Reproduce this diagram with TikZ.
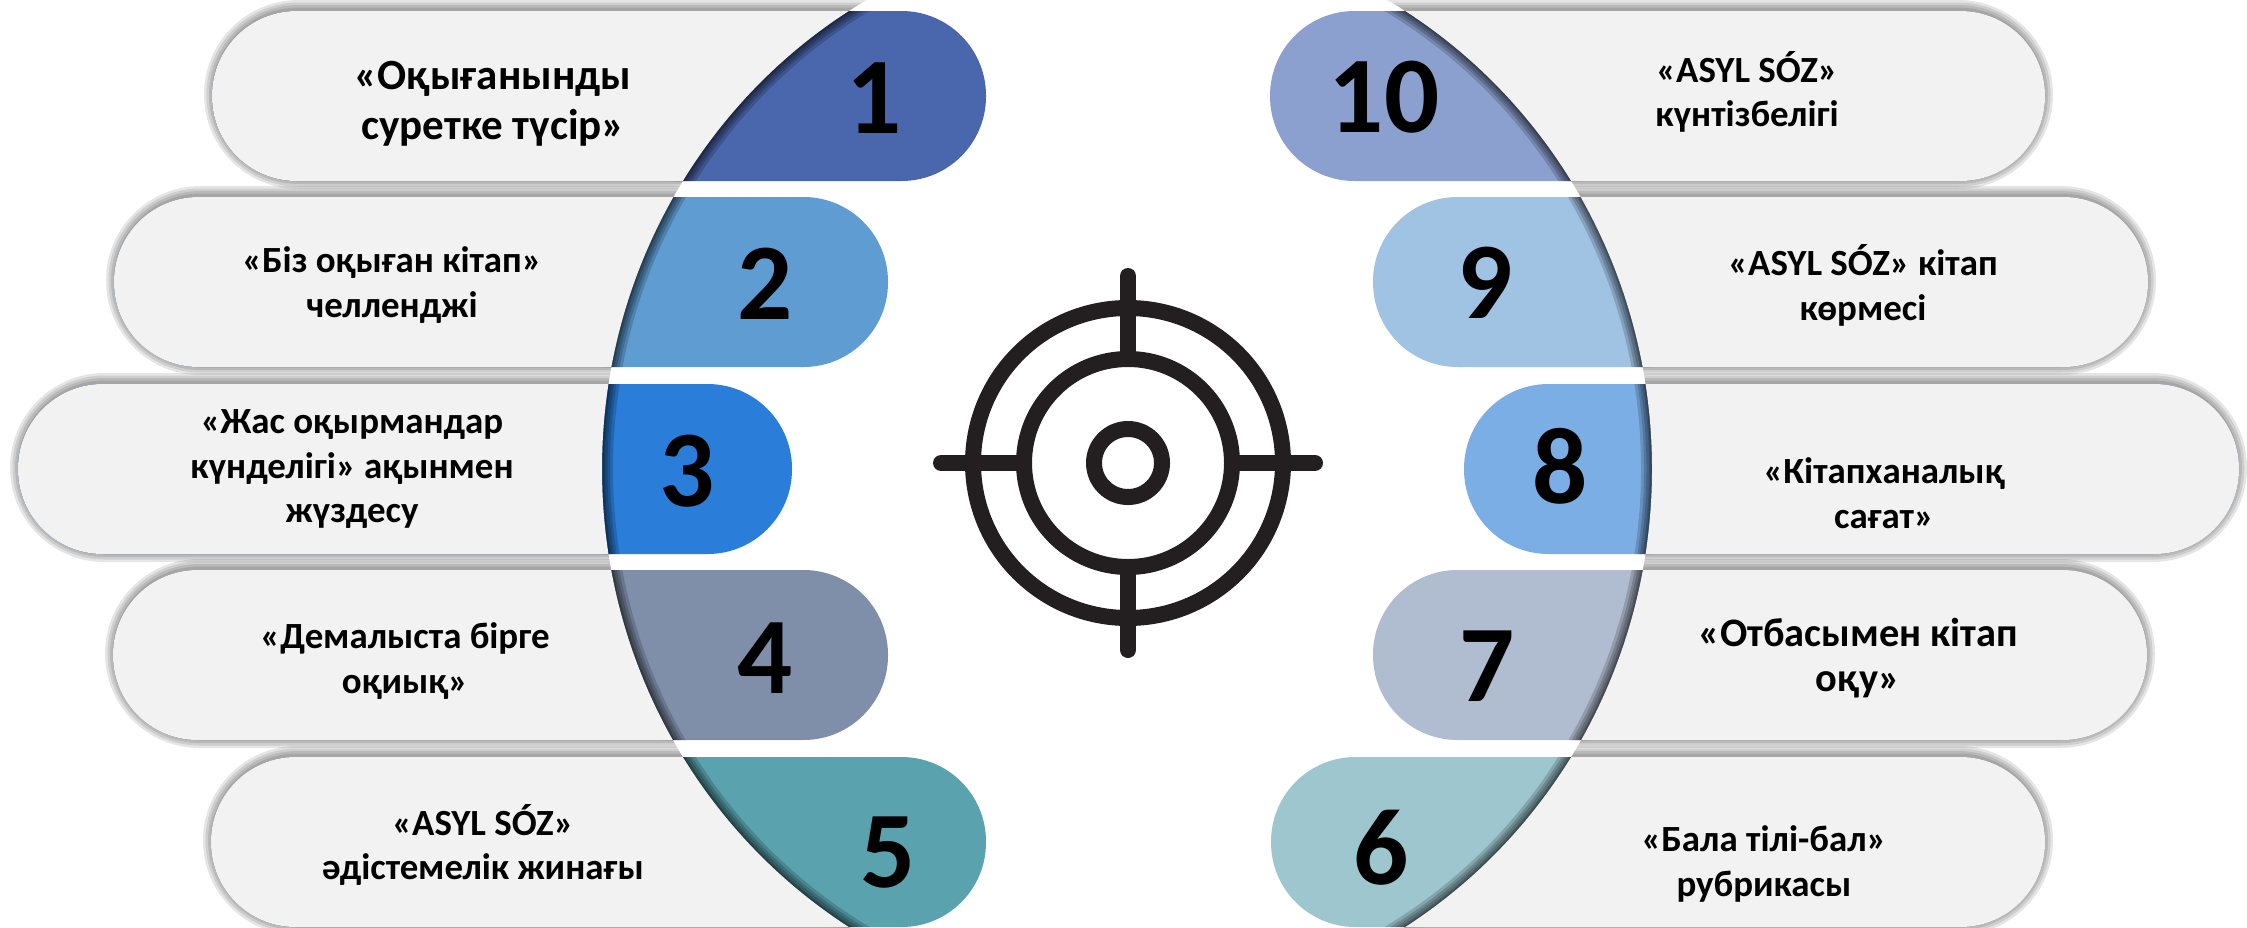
\documentclass[tikz,border=0pt]{standalone}
\usepackage{fontspec}
\setmainfont{Carlito}
\definecolor{bar1}{HTML}{4A66AC}
\definecolor{bar2}{HTML}{5F9CD2}
\definecolor{bar3}{HTML}{2A7DD8}
\definecolor{bar4}{HTML}{7F8FA9}
\definecolor{bar5}{HTML}{5AA2AE}
\definecolor{bar6}{HTML}{9DC6CF}
\definecolor{bar7}{HTML}{B0BCCF}
\definecolor{bar8}{HTML}{7CAEE6}
\definecolor{bar9}{HTML}{A0C2E3}
\definecolor{bar10}{HTML}{8CA0CF}
\definecolor{pillgray}{HTML}{F2F2F2}
\definecolor{ink}{HTML}{231F20}
\tikzstyle{pill} = [rounded corners=1.69cm]
\tikzstyle{numstyle} = [font=\fontsize{62}{62}\selectfont\bfseries,text=black,inner sep=0pt]
\tikzstyle{lblstyle} = [align=center,text=black,inner sep=0pt,font=\fontsize{21}{25.5}\selectfont\bfseries]
\tikzstyle{ring} = [draw=ink,line width=0.32cm]
\tikzstyle{hair} = [draw=ink,line width=0.32cm,line cap=round]

\begin{document}
\begin{tikzpicture}[x=0.02cm,y=-0.02cm]
	% Everything is in pixels of the reference, y going down
	\useasboundingbox (0,0) rectangle (2247,927);

	% The bars: colour first, then the shadow of the big oval, then the gray part
	\foreach \n/\xl/\xr/\yt/\sx in {1/212/986/11/-2,2/114/888/197/-2,3/18/792/384/-2,4/113/888/570/-2,5/211/986/757/-2,
		10/1270/2045/11/2,9/1373/2148/197/2,8/1464/2239/384/2,7/1373/2147/570/2,6/1271/2045/757/2}{%
		\pgfmathsetmacro{\yb}{\yt+170}
		\fill [pill,bar\n] (\xl,\yt) rectangle (\xr,\yb);
		\begin{scope}[pill]
			\clip (\xl,\yt) rectangle (\xr,\yb);
			\foreach \w in {0.44,0.32,0.22,0.12,0.06}
				\draw [sharp corners,black,opacity=0.17,line width=\w cm] (1127,469) ellipse [x radius=525, y radius=540];
		\end{scope}
		\begin{scope}[even odd rule]
			% Outside of the oval only
			\clip (-50,-50) rectangle (2300,980) (1127,469) ellipse [x radius=525, y radius=540];
			\foreach \w in {0.4,0.3,0.2,0.1}
				\draw [pill,black,opacity=0.1,line width=\w cm,xshift=\sx*0.02cm] (\xl+4,\yt-1) rectangle (\xr-4,\yb-2);
			\fill [pill,pillgray] (\xl,\yt) rectangle (\xr,\yb);
		\end{scope}
	}

	% The numbers
	\foreach \n/\x/\y in {1/874/98,2/765/284,3/687/471,4/765/658,5/888/853,
		10/1384/97,9/1485/283,8/1560/466,7/1487/666,6/1381/848}{%
		\node (num\n) [numstyle] at (\x,\y) {\n};
	}

	% The texts
	\node (lbl1) [lblstyle,font=\fontsize{24.5}{28.6}\selectfont\bfseries] at (493,104) {«Оқығанынды\\суретке түсір»};
	\node (lbl2) [lblstyle] at (392,285) {«Біз оқыған кітап»\\челленджі};
	\node (lbl3) [lblstyle] at (352,469) {«Жас оқырмандар\\күнделігі» ақынмен\\жүздесу};
	\node (lbl4) [lblstyle] at (405,661) {«Демалыста бірге\\оқиық»};
	\node (lbl5) [lblstyle] at (483,845) {«ASYL SÓZ»\\әдістемелік жинағы};
	\node (lbl6) [lblstyle] at (1764,864) {«Бала тілі-бал»\\рубрикасы};
	\node (lbl7) [lblstyle,font=\fontsize{23}{25.5}\selectfont\bfseries] at (1858,658) {«Отбасымен кітап\\оқу»};
	\node (lbl8) [lblstyle] at (1884,493) {«Кітапханалық\\сағат»};
	\node (lbl9) [lblstyle] at (1863,285) {«ASYL SÓZ» кітап\\көрмесі};
	\node (lbl10) [lblstyle] at (1747,92) {«ASYL SÓZ»\\күнтізбелігі};

	% The target in the middle
	\foreach \r in {155,104,34}
		\path [ring] (1128,463) circle (\r);
	\foreach \a in {0,90,180,270}
		\draw [hair] (1128,463) ++(\a:104) -- ++(\a:83);
\end{tikzpicture}
\end{document}
